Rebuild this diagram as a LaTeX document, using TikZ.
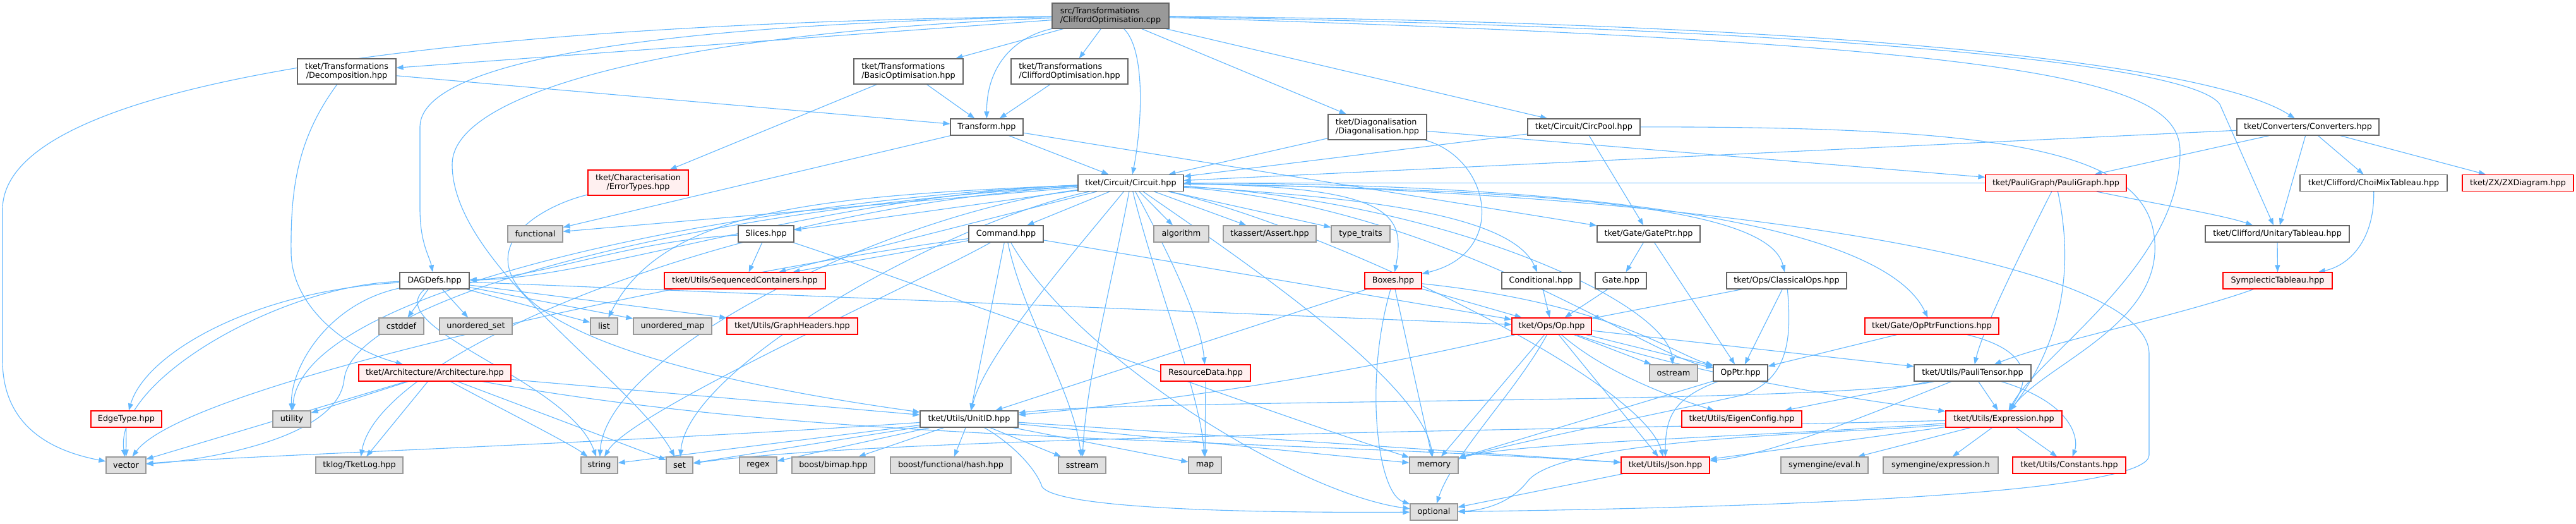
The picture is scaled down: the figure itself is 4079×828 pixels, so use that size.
\documentclass[tikz,border=0pt]{standalone}
\usepackage{fontspec}
\setmainfont{DejaVu Sans}
\usetikzlibrary{arrows.meta}
\pgfdeclarelayer{bgl}
\pgfdeclarelayer{edges}
\pgfsetlayers{bgl,edges,main}
\definecolor{edgec}{HTML}{63B8FF}
\definecolor{redb}{HTML}{FF0000}
\definecolor{redf}{HTML}{FFF0F0}
\definecolor{grayf}{HTML}{E0E0E0}
\definecolor{grayb}{HTML}{999999}
\definecolor{darkb}{HTML}{666666}
\definecolor{topf}{HTML}{999999}
\begin{document}
\begin{tikzpicture}[x=1pt,y=-1pt,
  nb/.style={draw, inner sep=0pt, minimum height=26pt, line width=1.2pt, font=\fontsize{12.8}{14.5}\selectfont, text=black},
  wbox/.style={nb, fill=white, draw=darkb},
  rbox/.style={nb, fill=redf, draw=redb},
  gbox/.style={nb, fill=grayf, draw=grayb},
  tbox/.style={nb, fill=topf, draw=darkb},
  two/.style={minimum height=40pt},
  e/.style={draw=edgec, line width=1.1pt, line join=round, -{Triangle[length=11pt,width=8pt]}},
]
\begin{pgfonlayer}{bgl}
\fill[white] (0,0) rectangle (4079,828);
\end{pgfonlayer}
\useasboundingbox (0,0) rectangle (4079,828);

% level 0-2
\node[tbox,two,align=left,minimum width=185pt] (T) at (1758.5,25) {src/Transformations\\/CliffordOptimisation.cpp};
\node[wbox,two,align=center,minimum width=156pt] (dec) at (549,113) {tket/Transformations\\/Decomposition.hpp};
\node[wbox,two,align=left,minimum width=173pt] (bas) at (1438.5,113) {tket/Transformations\\/BasicOptimisation.hpp};
\node[wbox,two,align=left,minimum width=185pt] (cohpp) at (1693.5,113) {tket/Transformations\\/CliffordOptimisation.hpp};
\node[wbox,minimum width=115pt] (tra) at (1562.5,201) {Transform.hpp};
\node[wbox,two,align=left,minimum width=156pt] (dia) at (2181,201) {tket/Diagonalisation\\/Diagonalisation.hpp};
\node[wbox,minimum width=178pt] (cpool) at (2508,201) {tket/Circuit/CircPool.hpp};
\node[wbox,minimum width=225pt] (conv) at (3654.5,201) {tket/Converters/Converters.hpp};
\node[rbox,two,align=center,minimum width=159pt] (err) at (1010.5,289) {tket/Characterisation\\/ErrorTypes.hpp};
\node[wbox,minimum width=167pt] (circ) at (1790.5,289.5) {tket/Circuit/Circuit.hpp};
\node[rbox,minimum width=223pt] (pg) at (3255.5,289.5) {tket/PauliGraph/PauliGraph.hpp};
\node[wbox,minimum width=233pt] (choi) at (3758.5,289.5) {tket/Clifford/ChoiMixTableau.hpp};
\node[rbox,minimum width=176pt] (zx) at (3987,289.5) {tket/ZX/ZXDiagram.hpp};
% row 370
\node[gbox,minimum width=87pt] (func) at (847.5,370) {functional};
\node[wbox,minimum width=88pt] (sli) at (1213,370) {Slices.hpp};
\node[wbox,minimum width=118pt] (cmd) at (1593,370) {Command.hpp};
\node[gbox,minimum width=87pt] (alg) at (1870.5,370) {algorithm};
\node[gbox,minimum width=147pt] (tka) at (2010.5,370) {tkassert/Assert.hpp};
\node[gbox,minimum width=93pt] (tt) at (2154.5,370) {type\_traits};
\node[wbox,minimum width=163pt] (gptr) at (2610.5,370) {tket/Gate/GatePtr.hpp};
\node[wbox,minimum width=228pt] (utab) at (3606,370) {tket/Clifford/UnitaryTableau.hpp};
% row 444
\node[wbox,minimum width=110pt] (dag) at (688,444) {DAGDefs.hpp};
\node[rbox,minimum width=255pt] (seq) at (1179.5,444) {tket/Utils/SequencedContainers.hpp};
\node[rbox,minimum width=90pt] (box) at (2206,444) {Boxes.hpp};
\node[wbox,minimum width=124pt] (cond) at (2440,444) {Conditional.hpp};
\node[wbox,minimum width=81pt] (gate) at (2566.5,444) {Gate.hpp};
\node[wbox,minimum width=190pt] (cops) at (2829,444) {tket/Ops/ClassicalOps.hpp};
\node[rbox,minimum width=173pt] (symp) at (3606.5,444) {SymplecticTableau.hpp};
% row 516
\node[gbox,minimum width=71pt] (cst) at (635.5,516) {cstddef};
\node[gbox,minimum width=115pt] (uset) at (753.5,516) {unordered\_set};
\node[gbox,minimum width=43pt] (list) at (956.5,516) {list};
\node[gbox,minimum width=124pt] (umap) at (1065,516) {unordered\_map};
\node[rbox,minimum width=207pt] (gh) at (1254.5,516) {tket/Utils/GraphHeaders.hpp};
\node[rbox,minimum width=126pt] (op) at (2457,516) {tket/Ops/Op.hpp};
\node[rbox,minimum width=212pt] (opf) at (3059,516) {tket/Gate/OpPtrFunctions.hpp};
% row 590
\node[rbox,minimum width=241pt] (arch) at (688.5,590) {tket/Architecture/Architecture.hpp};
\node[rbox,minimum width=142pt] (res) at (1909,590) {ResourceData.hpp};
\node[gbox,minimum width=76pt] (ost) at (2650,590) {ostream};
\node[wbox,minimum width=86pt] (optr) at (2756,590) {OpPtr.hpp};
\node[wbox,minimum width=185pt] (pt) at (3123.5,590) {tket/Utils/PauliTensor.hpp};
% row 663
\node[rbox,minimum width=112pt] (edge) at (200,663) {EdgeType.hpp};
\node[gbox,minimum width=60pt] (util) at (462,663) {utility};
\node[wbox,minimum width=155pt] (uid) at (1534.5,663) {tket/Utils/UnitID.hpp};
\node[rbox,minimum width=190pt] (eig) at (2758,663) {tket/Utils/EigenConfig.hpp};
\node[rbox,minimum width=184pt] (expr) at (3173,663) {tket/Utils/Expression.hpp};
% row 736
\node[gbox,minimum width=63pt] (vec) at (199.5,736) {vector};
\node[gbox,minimum width=138pt] (tlog) at (569,736) {tklog/TketLog.hpp};
\node[gbox,minimum width=58pt] (str) at (949,736) {string};
\node[gbox,minimum width=42pt] (set) at (1076,736) {set};
\node[gbox,minimum width=59pt] (rgx) at (1200.5,736) {regex};
\node[gbox,minimum width=131pt] (bim) at (1319.5,736) {boost/bimap.hpp};
\node[gbox,minimum width=191pt] (hsh) at (1505.5,736) {boost/functional/hash.hpp};
\node[gbox,minimum width=75pt] (sst) at (1713.5,736) {sstream};
\node[gbox,minimum width=52pt] (map) at (1908,736) {map};
\node[gbox,minimum width=77pt] (mem) at (2270.5,736) {memory};
\node[rbox,minimum width=140pt] (json) at (2637,736) {tket/Utils/Json.hpp};
\node[gbox,minimum width=138pt] (evl) at (2889,736) {symengine/eval.h};
\node[gbox,minimum width=182pt] (exh) at (3073,736) {symengine/expression.h};
\node[rbox,minimum width=179pt] (cons) at (3276.5,736) {tket/Utils/Constants.hpp};
% row 810
\node[gbox,minimum width=75pt] (opt) at (2270.5,810) {optional};

\begin{pgfonlayer}{edges}
% from the source file
\draw[e] (T) -- (dec);
\draw[e] (T) -- (bas);
\draw[e] (T) -- (cohpp);
\draw[e] (T) .. controls (1600,60) and (1562,110) .. (tra);
\draw[e] (T) .. controls (1815,80) and (1808,200) .. (circ);
\draw[e] (T) -- (dia);
\draw[e] (T) -- (cpool);
\draw[e] (T) .. controls (2900,35) and (3500,100) .. (conv);
\draw[e] (T) .. controls (2900,45) and (3470,100) .. (3515,165) -- (utab);
\draw[e] (T) .. controls (900,35) and (8,100) .. (4,330) -- (4,570) .. controls (4,680) and (90,715) .. (vec);
\draw[e] (T) .. controls (1200,35) and (668,75) .. (665,200) -- (665,330) .. controls (665,385) and (680,405) .. (dag);
\draw[e] (T) .. controls (1100,50) and (716,140) .. (716,260) .. controls (716,420) and (1000,600) .. (set);
\draw[e] (T) .. controls (3250,70) and (3452,130) .. (3452,240) .. controls (3452,420) and (3230,560) .. (expr);
% second level
\draw[e] (dec) -- (tra);
\draw[e] (dec) .. controls (470,220) and (460,300) .. (461,400) .. controls (462,480) and (540,550) .. (arch);
\draw[e] (bas) -- (err);
\draw[e] (bas) -- (tra);
\draw[e] (cohpp) -- (tra);
\draw[e] (tra) -- (circ);
\draw[e] (tra) -- (func);
\draw[e] (tra) -- (gptr);
\draw[e] (dia) -- (circ);
\draw[e] (dia) .. controls (2360,250) and (2390,400) .. (box);
\draw[e] (dia) -- (pg);
\draw[e] (cpool) -- (circ);
\draw[e] (cpool) -- (gptr);
\draw[e] (cpool) .. controls (3200,200) and (3420,240) .. (3412,400) .. controls (3405,520) and (3235,580) .. (expr);
\draw[e] (conv) -- (circ);
\draw[e] (conv) -- (pg);
\draw[e] (conv) -- (utab);
\draw[e] (conv) -- (choi);
\draw[e] (conv) -- (zx);
\draw[e] (err) .. controls (880,320) and (795,360) .. (805,420) .. controls (830,560) and (1300,630) .. (uid);
% Circuit.hpp
\draw[e] (circ) -- (func);
\draw[e] (circ) -- (sli);
\draw[e] (circ) -- (cmd);
\draw[e] (circ) -- (alg);
\draw[e] (circ) -- (tka);
\draw[e] (circ) -- (tt);
\draw[e] (circ) .. controls (1300,310) and (950,440) .. (dag);
\draw[e] (circ) -- (seq);
\draw[e] (circ) .. controls (2210,295) and (2225,340) .. (box);
\draw[e] (circ) .. controls (2100,310) and (2390,330) .. (cond);
\draw[e] (circ) .. controls (2400,300) and (2800,320) .. (cops);
\draw[e] (circ) .. controls (1300,310) and (1050,330) .. (list);
\draw[e] (circ) .. controls (2500,290) and (2980,350) .. (opf);
\draw[e] (circ) .. controls (1850,400) and (1900,500) .. (res);
\draw[e] (circ) .. controls (2300,320) and (2640,480) .. (ost);
\draw[e] (circ) .. controls (2300,330) and (2600,560) .. (optr);
\draw[e] (circ) .. controls (1700,400) and (1560,560) .. (uid);
\draw[e] (circ) .. controls (1200,315) and (480,450) .. (util);
\draw[e] (circ) .. controls (1100,330) and (560,470) .. (545,600) .. controls (535,700) and (300,730) .. (vec);
\draw[e] (circ) .. controls (1150,330) and (600,560) .. (tlog);
\draw[e] (circ) .. controls (1400,340) and (960,560) .. (str);
\draw[e] (circ) .. controls (1500,350) and (1090,580) .. (set);
\draw[e] (circ) .. controls (1760,450) and (1720,600) .. (sst);
\draw[e] (circ) .. controls (1830,450) and (1900,620) .. (map);
\draw[e] (circ) .. controls (1950,400) and (2250,600) .. (mem);
\draw[e] (circ) .. controls (2100,360) and (2600,600) .. (json);
\draw[e] (circ) .. controls (2600,300) and (3403,400) .. (3403,560) -- (3403,720) .. controls (3403,770) and (3000,800) .. (opt);
% Slices, Command
\draw[e] (sli) .. controls (1000,380) and (850,440) .. (dag);
\draw[e] (sli) -- (seq);
\draw[e] (sli) .. controls (1400,430) and (2000,650) .. (mem);
\draw[e] (cmd) -- (seq);
\draw[e] (cmd) -- (op);
\draw[e] (cmd) -- (uid);
\draw[e] (cmd) .. controls (1620,500) and (1700,620) .. (sst);
\draw[e] (cmd) .. controls (1450,450) and (1000,650) .. (str);
\draw[e] (cmd) .. controls (1700,560) and (2050,780) .. (opt);
\draw[e] (cmd) .. controls (1200,420) and (300,600) .. (vec);
\draw[e] (gptr) -- (gate);
\draw[e] (gptr) -- (optr);
\draw[e] (utab) -- (symp);
\draw[e] (choi) .. controls (3760,380) and (3720,420) .. (symp);
% DAGDefs
\draw[e] (dag) -- (cst);
\draw[e] (dag) -- (uset);
\draw[e] (dag) -- (list);
\draw[e] (dag) -- (umap);
\draw[e] (dag) -- (gh);
\draw[e] (dag) -- (op);
\draw[e] (dag) .. controls (400,460) and (230,560) .. (edge);
\draw[e] (dag) .. controls (450,450) and (180,600) .. (vec);
\draw[e] (dag) .. controls (520,480) and (460,580) .. (util);
\draw[e] (dag) .. controls (600,520) and (900,600) .. (str);
% Boxes etc.
\draw[e] (box) -- (op);
\draw[e] (box) -- (mem);
\draw[e] (box) .. controls (2160,600) and (2180,780) .. (opt);
\draw[e] (box) -- (uid);
\draw[e] (box) .. controls (2550,480) and (2650,560) .. (optr);
\draw[e] (cond) -- (op);
\draw[e] (gate) -- (op);
\draw[e] (cops) -- (op);
\draw[e] (cops) -- (optr);
\draw[e] (cops) .. controls (2838,540) and (2830,600) .. (2760,625) .. controls (2600,660) and (2400,700) .. (mem);
\draw[e] (symp) .. controls (3450,500) and (3250,540) .. (pt);
% Op
\draw[e] (op) -- (ost);
\draw[e] (op) -- (optr);
\draw[e] (op) -- (mem);
\draw[e] (op) .. controls (2400,620) and (2300,720) .. (opt);
\draw[e] (op) -- (json);
\draw[e] (op) .. controls (2530,580) and (2620,620) .. (eig);
\draw[e] (op) .. controls (2700,600) and (3000,640) .. (expr);
\draw[e] (op) -- (pt);
\draw[e] (op) .. controls (2100,600) and (1800,640) .. (uid);
\draw[e] (opf) -- (optr);
\draw[e] (opf) .. controls (3240,560) and (3200,620) .. (expr);
% Architecture, ResourceData
\draw[e] (arch) -- (util);
\draw[e] (arch) -- (vec);
\draw[e] (arch) -- (tlog);
\draw[e] (arch) .. controls (780,640) and (900,700) .. (str);
\draw[e] (arch) -- (set);
\draw[e] (arch) -- (uid);
\draw[e] (arch) .. controls (1300,700) and (1900,690) .. (json);
\draw[e] (res) -- (map);
% PauliTensor, PauliGraph
\draw[e] (pt) -- (expr);
\draw[e] (pt) .. controls (3290,640) and (3290,700) .. (cons);
\draw[e] (pt) -- (eig);
\draw[e] (pt) .. controls (2950,660) and (2800,720) .. (json);
\draw[e] (pt) .. controls (2900,640) and (1800,630) .. (uid);
\draw[e] (pg) -- (circ);
\draw[e] (pg) .. controls (3400,320) and (3520,340) .. (utab);
\draw[e] (pg) .. controls (3200,400) and (3140,520) .. (pt);
\draw[e] (pg) .. controls (3290,450) and (3250,560) .. (expr);
% lower level
\draw[e] (edge) -- (vec);
\draw[e] (uid) .. controls (1000,700) and (400,720) .. (vec);
\draw[e] (uid) -- (str);
\draw[e] (uid) -- (set);
\draw[e] (uid) -- (rgx);
\draw[e] (uid) -- (bim);
\draw[e] (uid) -- (hsh);
\draw[e] (uid) -- (sst);
\draw[e] (uid) -- (map);
\draw[e] (uid) -- (mem);
\draw[e] (uid) .. controls (1600,700) and (1640,740) .. (1650,770) .. controls (1670,800) and (1900,812) .. (opt);
\draw[e] (uid) -- (json);
\draw[e] (expr) -- (cons);
\draw[e] (expr) -- (evl);
\draw[e] (expr) -- (exh);
\draw[e] (expr) -- (json);
\draw[e] (expr) .. controls (2800,690) and (2400,700) .. (mem);
\draw[e] (expr) .. controls (2950,685) and (2480,690) .. (2420,760) .. controls (2390,800) and (2340,808) .. (opt);
\draw[e] (expr) .. controls (2500,680) and (1400,690) .. (set);
\draw[e] (json) -- (opt);
\draw[e] (optr) -- (mem);
\draw[e] (optr) .. controls (2650,630) and (2637,660) .. (json);
\end{pgfonlayer}
\end{tikzpicture}
\end{document}
